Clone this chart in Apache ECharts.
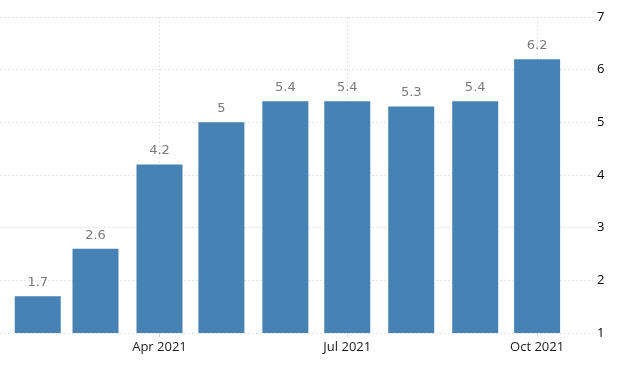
<!DOCTYPE html>
<html>
<head>
<meta charset="utf-8">
<script src="https://cdn.jsdelivr.net/npm/echarts@6/dist/echarts.min.js"></script>
<style>html,body{margin:0;padding:0;background:#fff}#c{width:624px;height:365px}</style>
</head>
<body>
<div id="c"></div>
<script>
var months = ['2021-02-01','2021-03-01','2021-04-01','2021-05-01','2021-06-01','2021-07-01','2021-08-01','2021-09-01','2021-10-01'];
var values = [1.7, 2.6, 4.2, 5, 5.4, 5.4, 5.3, 5.4, 6.2];
var tickDates = ['2021-01-01','2021-04-01','2021-07-01','2021-10-01'];
var yTicks = [1, 2, 3, 4, 5, 6, 7];

function ts(s){ var p = s.split('-'); return new Date(+p[0], +p[1]-1, +p[2]).getTime(); }
var monthNames = ['Jan','Feb','Mar','Apr','May','Jun','Jul','Aug','Sep','Oct','Nov','Dec'];
var tickTs = tickDates.map(ts);

var chart = echarts.init(document.getElementById('c'));
chart.setOption({
  animation: false,
  grid: {left: 0, right: 31, top: 17, bottom: 32},
  xAxis: {
    type: 'value',
    scale: true,
    min: new Date(2021, 0, 13, 17).getTime(),
    max: new Date(2021, 9, 28, 2).getTime(),
    axisLine: {show: false},
    axisTick: {show: true, length: 4, lineStyle: {color: '#dddddd'}, customValues: tickTs},
    axisLabel: {
      customValues: tickTs,
      margin: 8,
      color: '#1a1a1a',
      fontFamily: 'Open Sans',
      fontSize: 13,
      formatter: function (v) { var d = new Date(v); return monthNames[d.getMonth()] + ' ' + d.getFullYear(); }
    },
    splitLine: {show: true, lineStyle: {type: [2, 2], color: '#e3e3e3'}}
  },
  yAxis: {
    type: 'value',
    position: 'right',
    min: yTicks[0],
    max: yTicks[yTicks.length - 1],
    interval: 1,
    axisLine: {show: false},
    axisTick: {show: false},
    axisLabel: {color: '#000000', fontFamily: 'Open Sans', fontSize: 13, margin: 4},
    splitLine: {show: true, lineStyle: {type: [2, 2], color: '#e3e3e3'}}
  },
  series: [{
    type: 'bar',
    barWidth: 46,
    data: months.map(function (m, i) { return [ts(m), values[i]]; }),
    itemStyle: {color: '#4682B4'},
    label: {
      show: true,
      position: 'top',
      distance: 7,
      color: '#7a7a7a',
      fontFamily: 'DejaVu Sans',
      fontSize: 13,
      formatter: function (p) { return p.value[1]; }
    }
  }]
});
</script>
</body>
</html>
